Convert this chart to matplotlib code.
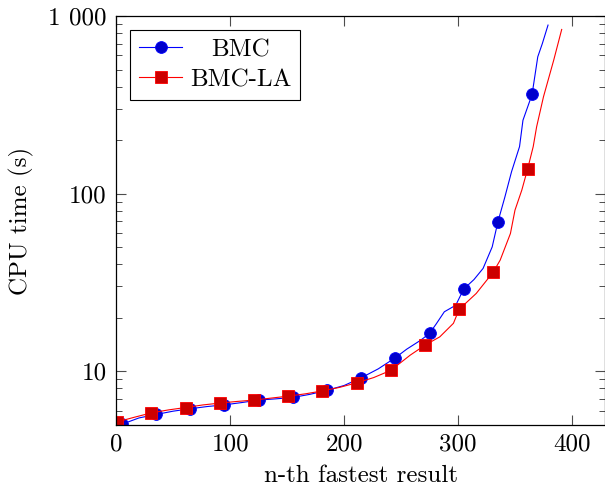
import numpy as np
import matplotlib.pyplot as plt
from matplotlib.ticker import FixedLocator, FixedFormatter, LogLocator, NullFormatter

plt.rcParams['font.family'] = 'cmr10'
plt.rcParams['mathtext.fontset'] = 'cm'
plt.rcParams['axes.unicode_minus'] = False

# BMC run times (sorted)
bmc_x = [0, 5, 20, 35, 50, 65, 80, 95, 110, 125, 140, 155, 170, 185, 200, 215, 230, 245,
         255, 267, 275, 281, 288, 298, 305, 314, 322, 330, 335, 341, 347, 354, 357, 365,
         370, 374, 379]
bmc_y = [4.95, 5.02, 5.45, 5.70, 5.95, 6.14, 6.32, 6.46, 6.65, 6.87, 6.98, 7.11, 7.4, 7.8,
         8.3, 9.17, 10.3, 11.9, 13.3, 14.9, 16.3, 18.5, 21.6, 23.5, 29.0, 32.8, 37.9, 50.1,
         69.3, 95, 133, 184, 259, 362, 590, 700, 890]
bmc_marks = [5, 35, 65, 95, 125, 155, 185, 215, 245, 275, 305, 335, 365]

# BMC-LA run times (sorted)
la_x = [0, 1, 16, 31, 46, 61, 76, 91, 106, 121, 136, 151, 166, 181, 196, 211, 226, 241,
        258, 271, 284, 296, 301, 316, 331, 337, 346, 350, 356, 361, 366, 369, 375, 384, 391]
la_y = [5.15, 5.18, 5.5, 5.82, 6.05, 6.24, 6.45, 6.61, 6.75, 6.87, 7.05, 7.23, 7.45, 7.74,
        8.1, 8.59, 9.2, 10.1, 12.3, 14.0, 15.6, 18.6, 22.3, 27.4, 36.2, 42.2, 59.6, 80.7,
        104.7, 137, 184, 238, 351, 565, 841]
la_marks = [1, 31, 61, 91, 121, 151, 181, 211, 241, 271, 301, 331, 361]

fs = 18

fig = plt.figure(figsize=(6.05, 4.88), dpi=100)
ax = fig.add_axes([0.192, 0.129, 0.808, 0.838])

ax.plot(bmc_x, bmc_y, '-o', color='blue', lw=0.8, ms=8.5, mfc='#0000cc', mec='blue',
        mew=0.6, markevery=[bmc_x.index(v) for v in bmc_marks], label='BMC')
ax.plot(la_x, la_y, '-s', color='red', lw=0.8, ms=8.5, mfc='#cc0000', mec='red',
        mew=0.6, markevery=[la_x.index(v) for v in la_marks], label='BMC-LA')

ax.set_yscale('log')
ax.set_xlim(0, 429)
ax.set_ylim(4.97, 1000)
ax.xaxis.set_major_locator(FixedLocator([0, 100, 200, 300, 400]))
ax.yaxis.set_major_locator(FixedLocator([10, 100, 1000]))
ax.yaxis.set_major_formatter(FixedFormatter(['10', '100', '1 000']))
ax.yaxis.set_minor_locator(LogLocator(base=10, subs=np.arange(2, 10)))
ax.yaxis.set_minor_formatter(NullFormatter())
ax.tick_params(which='both', direction='in', top=True, right=True, labelsize=fs, color='0.3')
ax.tick_params(which='major', length=7, width=0.8)
ax.tick_params(axis='x', which='major', pad=6)
ax.tick_params(axis='y', which='major', pad=7)
ax.tick_params(which='minor', length=4.5, width=0.7)
for s in ax.spines.values():
    s.set_linewidth(0.9)

ax.set_xlabel('n-th fastest result', fontsize=fs)
ax.set_ylabel('CPU time (s)', fontsize=fs)
ax.xaxis.set_label_coords(0.5, -0.097)
ax.yaxis.set_label_coords(-0.168, 0.5)

leg = ax.legend(loc='upper left', fontsize=fs, fancybox=False, edgecolor='black',
                framealpha=1, borderaxespad=0.55, handlelength=1.75, borderpad=0.35,
                labelspacing=0.3, handletextpad=0.3)
leg.get_frame().set_linewidth(0.8)

# centre the legend labels like pgfplots does
fig.canvas.draw()
r = fig.canvas.get_renderer()
texts = leg.get_texts()
widths = [t.get_window_extent(r).width for t in texts]
for t, w in zip(texts, widths):
    t.set_x((max(widths) - w) / 2)

fig.savefig('out.png', dpi=100)
